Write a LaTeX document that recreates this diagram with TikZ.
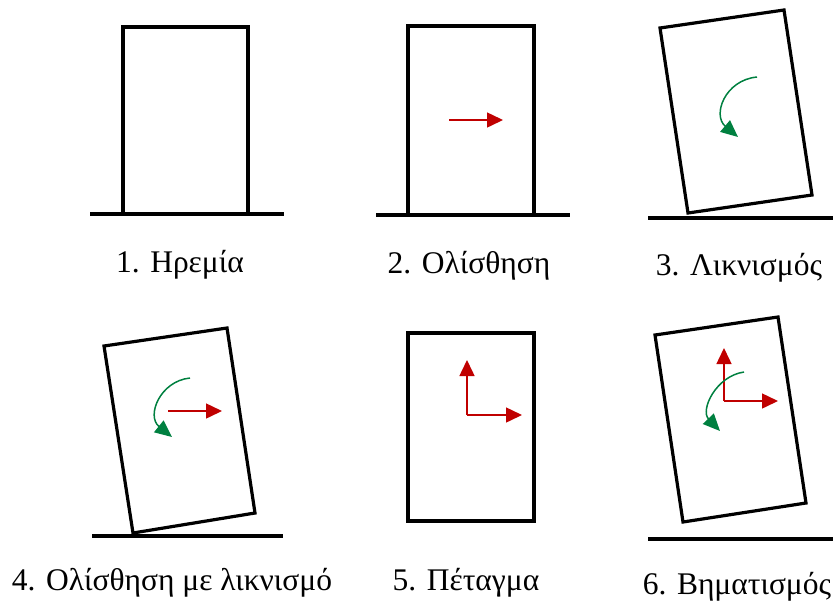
\documentclass[tikz,border=0pt]{standalone}
\usepackage{fontspec}
\setmainfont{Liberation Serif}
\usetikzlibrary{arrows.meta}
\definecolor{fred}{RGB}{192,0,0}
\definecolor{fgreen}{RGB}{0,128,64}
\tikzset{
  body/.style={draw=black,line width=3.2pt,line join=miter},
  ground/.style={draw=black,line width=3.2pt},
  push/.style={draw=fred,line width=1.5pt,-{Triangle[length=16pt,width=15pt]}},
  spin/.style={draw=fgreen,line width=1.5pt,-{Triangle[length=17pt,width=15pt]}},
  lbl/.style={font=\fontsize{31.5}{36}\selectfont,anchor=base,inner sep=0pt}
}
\begin{document}
\begin{tikzpicture}[x=1pt,y=-1pt]
\useasboundingbox (0,0) rectangle (833,606);
% Panel 1
\draw[ground] (90,214) -- (284,214);
\draw[body] (123,214) -- (123,27) -- (248,27) -- (248,214);
\node[lbl] (l1) at (180,272) {1. Ηρεμία};
% Panel 2
\draw[ground] (376,215) -- (570,215);
\draw[body] (408,215) -- (408,26) -- (534,26) -- (534,215);
\coordinate (p2a) at (449,120);
\coordinate (p2b) at (503,120);
\draw[push] (p2a) -- (p2b);
\node[lbl] (l2) at (469,273) {2. Ολίσθηση};
% Panel 3
\draw[ground] (648,218) -- (833,218);
\draw[body] (660,28) -- (784,10) -- (812,195) -- (688,213) -- cycle;
\coordinate (p3a) at (757,77);
\coordinate (p3b) at (738,137);
\draw[spin] (p3a) .. controls (725,80) and (712,115) .. (p3b);
\node[lbl] (l3) at (739,275) {3. Λικνισμός};
% Panel 4
\draw[ground] (92,536) -- (283,536);
\draw[body] (104,346) -- (227,328) -- (255,513) -- (133,533) -- cycle;
\coordinate (p4a) at (168,411);
\coordinate (p4b) at (222,411);
\draw[push] (p4a) -- (p4b);
\coordinate (p4c) at (190,378);
\coordinate (p4d) at (172,437);
\draw[spin] (p4c) .. controls (160,381) and (146,416) .. (p4d);
\node[lbl] (l4) at (172,590) {4. Ολίσθηση με λικνισμό};
% Panel 5
\draw[body] (408,333) rectangle (534,521);
\coordinate (p5o) at (467,415);
\coordinate (p5u) at (467,360);
\coordinate (p5r) at (522,415);
\draw[push] (p5o) -- (p5u);
\draw[push] (p5o) -- (p5r);
\node[lbl] (l5) at (466,590) {5. Πέταγμα};
% Panel 6
\draw[ground] (648,539) -- (833,539);
\draw[body] (655,335) -- (778,317) -- (806,503) -- (683,522) -- cycle;
\coordinate (p6o) at (724,401);
\coordinate (p6u) at (724,348);
\coordinate (p6r) at (778,401);
\draw[push] (p6o) -- (p6u);
\draw[push] (p6o) -- (p6r);
\coordinate (p6a) at (744,372);
\coordinate (p6b) at (720,431);
\draw[spin] (p6a) .. controls (716,376) and (700,410) .. (p6b);
\node[lbl] (l6) at (737,594) {6. Βηματισμός};
\end{tikzpicture}
\end{document}
